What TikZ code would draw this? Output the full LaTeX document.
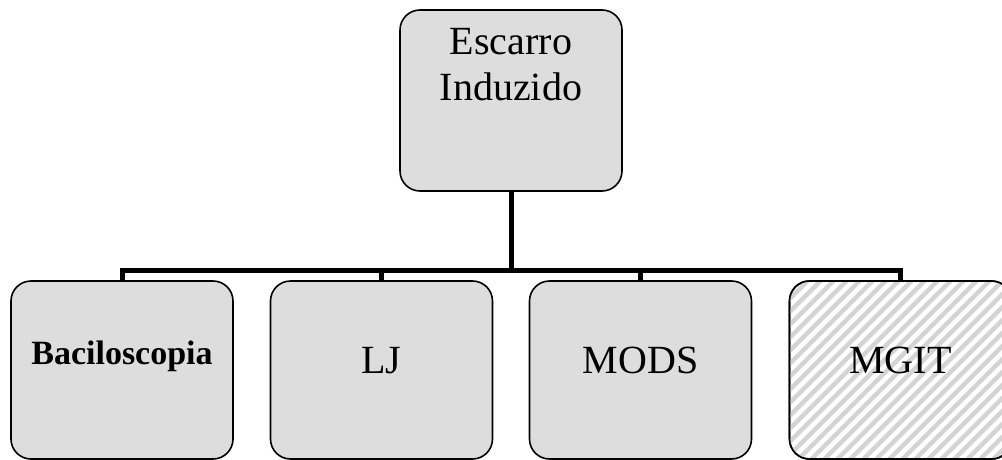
\documentclass[tikz,border=0pt]{standalone}
\usepackage{fontspec}
\setmainfont{Liberation Serif}
\definecolor{boxfill}{RGB}{221,221,221}
\definecolor{hatch}{RGB}{212,212,212}
\begin{document}
\begin{tikzpicture}[x=1pt,y=-1pt,
  box/.style={draw=black,line width=1.6pt,rounded corners=20pt,fill=boxfill,
    minimum width=222pt,inner sep=0pt,outer sep=0pt},
  topbox/.style={box,minimum height=181pt},
  leafbox/.style={box,minimum height=178pt},
  lbl/.style={inner sep=0pt,font=\fontsize{40}{46}\selectfont,align=center},
  conn/.style={line width=5pt,black}]
\useasboundingbox (0,0) rectangle (1002,460);
\clip (0,0) rectangle (1002,460);
% boxes
\node[topbox] (root) at (511,100.5) {};
\node[leafbox] (b1) at (122,370) {};
\node[leafbox] (b2) at (381.5,370) {};
\node[leafbox] (b3) at (640.5,370) {};
\node[leafbox,fill=white] (b4) at (900.5,370) {};
% hatch for MGIT
\begin{scope}
  \clip[rounded corners=20pt] (b4.south west) rectangle (b4.north east);
  \foreach \k in {-25,...,25} {
    \draw[hatch,line width=4.5pt] ([xshift=\k*13pt]b4.center) ++(-200,200) -- ++(400,-400);
  }
\end{scope}
\draw[line width=1.6pt,rounded corners=20pt] (b4.south west) rectangle (b4.north east);
% connectors
\coordinate (bus) at (511,270);
\draw[conn] (root.south) -- (bus);
\draw[conn] (b1.north) |- (b4.north |- bus) -- (b4.north);
\draw[conn] (b2.north) -- (b2.north |- bus);
\draw[conn] (b3.north) -- (b3.north |- bus);
% labels
\node[lbl] (t0) at (511,65) {Escarro\\Induzido};
\node[lbl,font=\fontsize{34}{40}\selectfont\bfseries,anchor=base] (t1) at (122,364) {Baciloscopia};
\node[lbl,anchor=base] (t2) at (381.5,373) {LJ};
\node[lbl,anchor=base] (t3) at (640.5,373) {MODS};
\node[lbl,anchor=base] (t4) at (900.5,373) {MGIT};
\end{tikzpicture}
\end{document}
